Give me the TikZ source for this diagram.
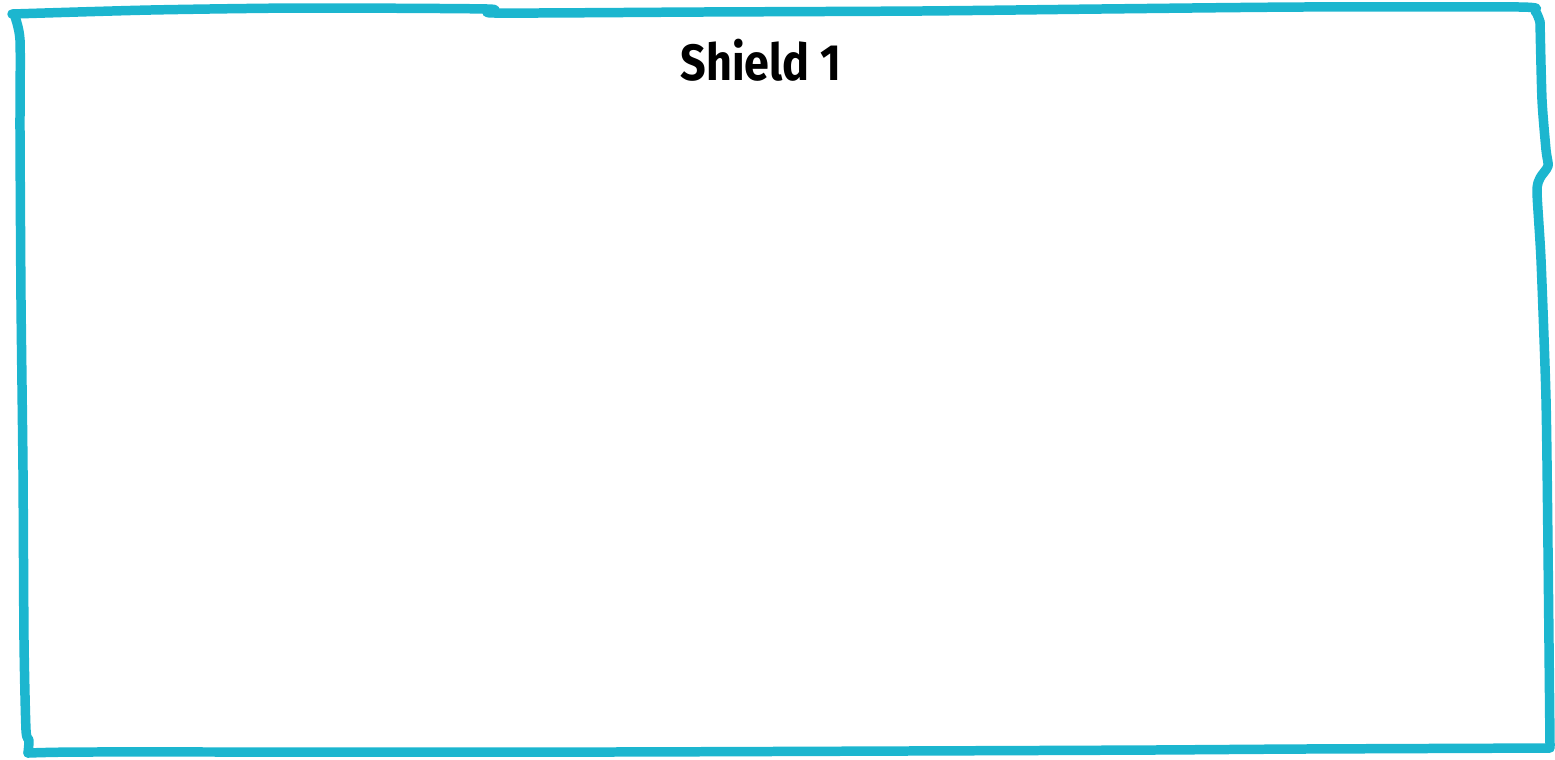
\documentclass[tikz,border=0pt]{standalone}
\usepackage{fontspec}
\setmainfont{Fira Sans}
\definecolor{bordo}{RGB}{28,182,207}
\tikzset{
  tratto/.style={draw=bordo, line width=2.7pt, line cap=round, line join=round},
  titolo/.style={font=\fontsize{14.5}{17}\selectfont\bfseries, inner sep=0pt}
}
\begin{document}
\begin{tikzpicture}[x=0.01cm, y=-0.01cm]

    \useasboundingbox (0,0) rectangle (1555,759);

    % Cornice a mano libera: lato superiore
    \draw[tratto] plot[smooth, tension=0.4] coordinates {
        (12,14) (150,10) (300,8) (488,9) (495,13) (700,12) (920,11)
        (1100,9) (1300,7) (1520,7) (1535,11) (1540,22)};

    % Lato destro con la gobba in alto
    \draw[tratto] plot[smooth, tension=0.4] coordinates {
        (1540,22) (1542,100) (1546,150) (1548,166) (1540,178)
        (1537,192) (1541,260) (1546,400) (1548,550) (1550,746)};

    % Lato inferiore
    \draw[tratto] plot[smooth, tension=0.4] coordinates {
        (1550,748) (1300,749) (1150,750) (900,751) (600,752)
        (300,752) (80,752) (28,753)};

    % Lato sinistro
    \draw[tratto] plot[smooth, tension=0.4] coordinates {
        (28,753) (29,740) (26,730) (24,640) (23,470) (21,300)
        (20,130) (20,40) (14,14)};

    % Titolo
    \node[titolo, anchor=base] (titolo) at (761,80) {\scalebox{0.88}[1]{Shield 1}};

\end{tikzpicture}
\end{document}
